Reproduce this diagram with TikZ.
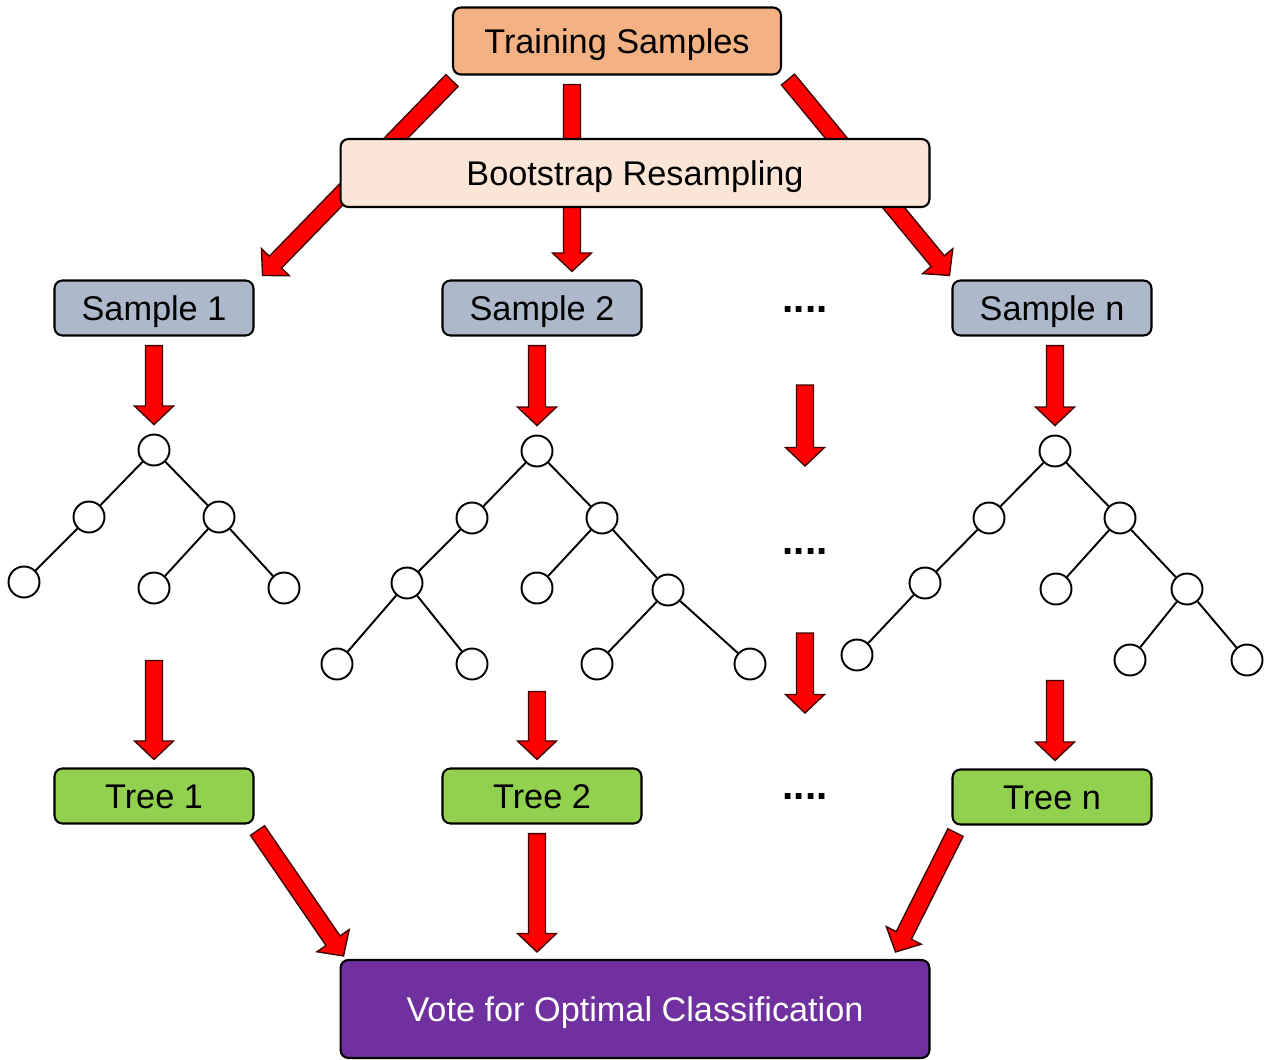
\documentclass[tikz,border=0pt]{standalone}
\usepackage{fontspec}
\setmainfont{Liberation Sans}
\usepackage{tikz}
\usetikzlibrary{calc,positioning,backgrounds}

\definecolor{trainfill}{HTML}{F4B183}
\definecolor{bootfill}{HTML}{FBE5D6}
\definecolor{samplefill}{HTML}{ADB9CA}
\definecolor{treefill}{HTML}{92D050}
\definecolor{votefill}{HTML}{7030A0}
\definecolor{arrowline}{HTML}{400000}

\tikzset{
  box/.style={draw=black, line width=1.2pt, rounded corners=4.5pt, inner sep=0pt,
    text height=14pt, text depth=0pt, font=\fontsize{19.5}{23}\selectfont},
  trainbox/.style={box, fill=trainfill, minimum width=6.56cm, minimum height=1.34cm},
  bootbox/.style={box, fill=bootfill, minimum width=11.78cm, minimum height=1.36cm},
  samplebox/.style={box, fill=samplefill, minimum width=3.98cm, minimum height=1.1cm},
  treebox/.style={box, fill=treefill, minimum width=3.98cm, minimum height=1.1cm},
  votebox/.style={box, fill=votefill, text=white, minimum width=11.78cm, minimum height=1.96cm},
  leaf/.style={circle, draw=black, line width=1.1pt, fill=white, minimum size=0.62cm, inner sep=0pt},
  branch/.style={line width=1.1pt},
  more/.style={font=\fontsize{23}{24}\selectfont\bfseries, inner sep=0pt},
  redarrow/.style={fill=red, draw=arrowline, line width=0.8pt, line join=miter}
}

% block arrow from #1 to #2
\newcommand{\bigarrow}[2]{%
  \coordinate (ba-a) at #1;
  \coordinate (ba-b) at #2;
  \coordinate (ba-c) at ($(ba-b)!0.37cm!(ba-a)$);
  \draw[redarrow] ($(ba-a)!0.17cm!90:(ba-b)$) -- ($(ba-c)!0.17cm!-90:(ba-a)$)
    -- ($(ba-c)!0.39cm!-90:(ba-a)$) -- (ba-b) -- ($(ba-c)!0.39cm!90:(ba-a)$)
    -- ($(ba-c)!0.17cm!90:(ba-a)$) -- ($(ba-a)!0.17cm!-90:(ba-b)$) -- cycle;
}

\begin{document}
\begin{tikzpicture}[x=0.02cm, y=-0.02cm]

     \useasboundingbox (0,0) rectangle (1266,1060);

     % Define nodes
     \node[trainbox]  (train) at (617,41)  {Training Samples};
     \node[bootbox]   (boot)  at (635,173) {Bootstrap Resampling};

     \node[samplebox] (s1) at (154,308)  {Sample 1};
     \node[samplebox] (s2) at (542,308)  {Sample 2};
     \node[samplebox] (sn) at (1052,308) {Sample n};

     \node[more] (dots1) at (805,309) {....};
     \node[more] (dots2) at (805,551) {....};
     \node[more] (dots3) at (805,796) {....};

     \node[treebox] (t1) at (154,796)  {Tree 1};
     \node[treebox] (t2) at (542,796)  {Tree 2};
     \node[treebox] (tn) at (1052,797) {Tree n};

     \node[votebox] (vote) at (635,1009) {Vote for Optimal Classification};

     % Tree 1
     \node[leaf] (r1)    at (154,450) {};
     \node[leaf] (r1l)   at (89,517)  {};
     \node[leaf] (r1r)   at (219,517) {};
     \node[leaf] (r1ll)  at (24,582)  {};
     \node[leaf] (r1rl)  at (154,588) {};
     \node[leaf] (r1rr)  at (284,588) {};
     \draw[branch] (r1) -- (r1l) -- (r1ll);
     \draw[branch] (r1) -- (r1r) -- (r1rl);
     \draw[branch] (r1r) -- (r1rr);

     % Tree 2
     \node[leaf] (r2)    at (537,451) {};
     \node[leaf] (r2l)   at (472,518) {};
     \node[leaf] (r2r)   at (602,518) {};
     \node[leaf] (r2ll)  at (407,583) {};
     \node[leaf] (r2lll) at (337,664) {};
     \node[leaf] (r2llr) at (472,664) {};
     \node[leaf] (r2rl)  at (537,588) {};
     \node[leaf] (r2rr)  at (668,590) {};
     \node[leaf] (r2rrl) at (597,664) {};
     \node[leaf] (r2rrr) at (750,664) {};
     \draw[branch] (r2) -- (r2l) -- (r2ll) -- (r2lll);
     \draw[branch] (r2ll) -- (r2llr);
     \draw[branch] (r2) -- (r2r) -- (r2rl);
     \draw[branch] (r2r) -- (r2rr) -- (r2rrl);
     \draw[branch] (r2rr) -- (r2rrr);

     % Tree n
     \node[leaf] (rn)    at (1055,451) {};
     \node[leaf] (rnl)   at (989,518)  {};
     \node[leaf] (rnr)   at (1120,518) {};
     \node[leaf] (rnll)  at (925,583)  {};
     \node[leaf] (rnlll) at (857,655)  {};
     \node[leaf] (rnrl)  at (1056,589) {};
     \node[leaf] (rnrr)  at (1187,589) {};
     \node[leaf] (rnrrl) at (1130,660) {};
     \node[leaf] (rnrrr) at (1247,660) {};
     \draw[branch] (rn) -- (rnl) -- (rnll) -- (rnlll);
     \draw[branch] (rn) -- (rnr) -- (rnrl);
     \draw[branch] (rnr) -- (rnrr) -- (rnrrl);
     \draw[branch] (rnrr) -- (rnrrr);

     % Connect the nodes
     \begin{pgfonlayer}{background}
       \bigarrow{($(train.south west)+(0,5)$)}{($(s1.north east)+(8,-4)$)}
       \bigarrow{($(train.south)+(-45,9)$)}{($(s2.north)+(30,-8)$)}
       \bigarrow{($(train.south east)+(6,4)$)}{($(sn.north west)+(-2,-4)$)}
     \end{pgfonlayer}

     \bigarrow{($(s1.south)+(0,9)$)}{($(r1.north)+(0,-9)$)}
     \bigarrow{($(s2.south -| r2)+(0,9)$)}{($(r2.north)+(0,-9)$)}
     \bigarrow{($(sn.south -| rn)+(0,9)$)}{($(rn.north)+(0,-9)$)}

     \bigarrow{($(dots1)+(0,76)$)}{($(dots2)+(0,-85)$)}
     \bigarrow{($(dots2)+(0,82)$)}{($(dots3)+(0,-83)$)}

     \bigarrow{($(r1rl.south)+(0,56)$)}{($(t1.north)+(0,-8)$)}
     \bigarrow{($(t2.north -| r2)+(0,-76)$)}{($(t2.north -| r2)+(0,-8)$)}
     \bigarrow{($(tn.north -| rn)+(0,-88)$)}{($(tn.north -| rn)+(0,-8)$)}

     \bigarrow{($(t1.south east)+(3,6)$)}{($(vote.north west)+(4,-3)$)}
     \bigarrow{($(t2.south -| r2)+(0,9)$)}{($(vote.north -| r2)+(0,-7)$)}
     \bigarrow{($(tn.south west)+(4,7)$)}{($(vote.north east)+(-35,-7)$)}

\end{tikzpicture}
\end{document}
